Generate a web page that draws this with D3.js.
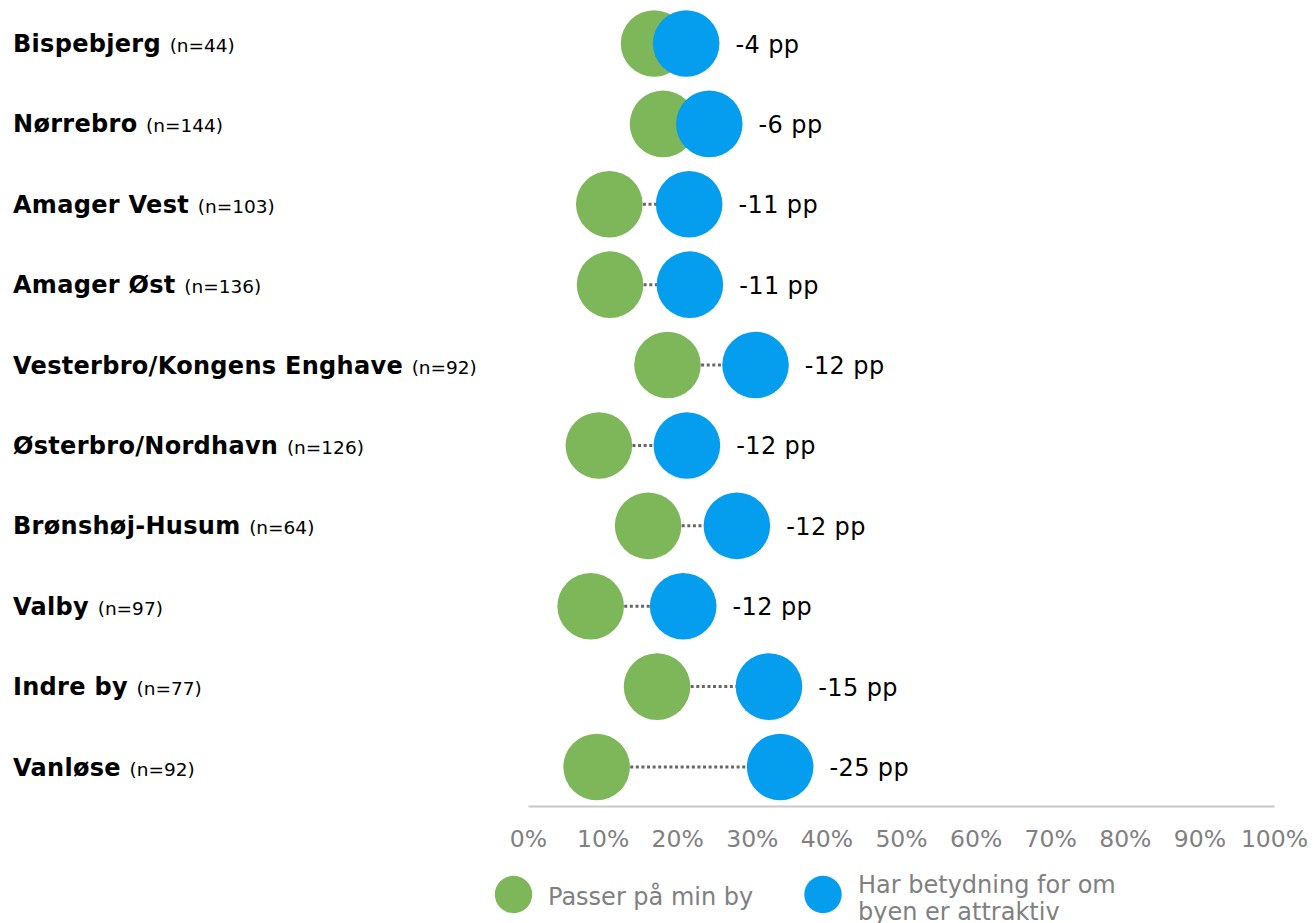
<!DOCTYPE html>
<html>
<head>
<meta charset="utf-8">
<script src="https://cdn.jsdelivr.net/npm/d3@7"></script>
<style>
  html, body { margin: 0; padding: 0; background: #fff; }
  svg { display: block; font-family: "DejaVu Sans", Verdana, sans-serif; }
</style>
</head>
<body>
<svg id="chart" width="1314" height="923"></svg>
<script>
const districts = ["Bispebjerg", "Nørrebro", "Amager Vest", "Amager Øst", "Vesterbro/Kongens Enghave", "Østerbro/Nordhavn", "Brønshøj-Husum", "Valby", "Indre by", "Vanløse"];
const counts = ["(n=44)", "(n=144)", "(n=103)", "(n=136)", "(n=92)", "(n=126)", "(n=64)", "(n=97)", "(n=77)", "(n=92)"];
const passer = [16.9, 18.1, 10.9, 11.0, 18.7, 9.5, 16.1, 8.4, 17.3, 9.2];
const betydning = [21.2, 24.3, 21.6, 21.7, 30.5, 21.3, 28.0, 20.8, 32.3, 33.8];
const diffLabels = ["-4 pp", "-6 pp", "-11 pp", "-11 pp", "-12 pp", "-12 pp", "-12 pp", "-12 pp", "-15 pp", "-25 pp"];
const tickValues = [0, 10, 20, 30, 40, 50, 60, 70, 80, 90, 100];
const seriesNames = ["Passer på min by", "Har betydning for om|byen er attraktiv"];
const colors = ["#7EB65A", "#059DED"];

const svg = d3.select("#chart");
const x = d3.scaleLinear().domain([0, 100]).range([528, 1274]);
const y = d3.scalePoint().domain(districts).range([43.5, 767]);
const r = 33.3;

// Row labels
const labels = svg.append("g").selectAll("text").data(districts).join("text")
  .attr("x", 13)
  .attr("y", d => y(d) + 8.5)
  .attr("font-size", 24)
  .attr("fill", "#000");
labels.append("tspan").attr("font-weight", "bold").attr("letter-spacing", 0.3).text(d => d + " ");
labels.append("tspan").attr("font-size", 18.5).text((d, i) => counts[i]);

// Connector lines
svg.append("g").selectAll("line").data(districts).join("line")
  .attr("x1", (d, i) => x(passer[i]))
  .attr("x2", (d, i) => x(betydning[i]))
  .attr("y1", d => y(d))
  .attr("y2", d => y(d))
  .attr("stroke", "#666")
  .attr("stroke-width", 3)
  .attr("stroke-dasharray", "3,2.6");

// Green circles
svg.append("g").selectAll("circle").data(districts).join("circle")
  .attr("cx", (d, i) => x(passer[i]))
  .attr("cy", d => y(d))
  .attr("r", r)
  .attr("fill", colors[0]);

// Blue circles
svg.append("g").selectAll("circle").data(districts).join("circle")
  .attr("cx", (d, i) => x(betydning[i]))
  .attr("cy", d => y(d))
  .attr("r", r)
  .attr("fill", colors[1]);

// Diff labels
svg.append("g").selectAll("text").data(districts).join("text")
  .attr("x", (d, i) => x(betydning[i]) + r + 16)
  .attr("y", d => y(d) + 9)
  .attr("font-size", 24)
  .attr("letter-spacing", 0.4)
  .attr("fill", "#000")
  .text((d, i) => diffLabels[i]);

// Axis
const axis = d3.axisBottom(x).tickValues(tickValues).tickSize(0).tickPadding(24).tickFormat(d => d + "%");
const ax = svg.append("g").attr("transform", "translate(0,806)").call(axis);
ax.select(".domain").attr("stroke", "#c8c8c8").attr("stroke-width", 2);
ax.selectAll("text").attr("font-size", 23.5).attr("fill", "#808080").attr("font-family", "DejaVu Sans, Verdana, sans-serif");

// Legend
const leg = svg.append("g");
leg.append("circle").attr("cx", 513.5).attr("cy", 894.5).attr("r", 18.7).attr("fill", colors[0]);
leg.append("text").attr("x", 548).attr("y", 905).attr("font-size", 24).attr("fill", "#808080").text(seriesNames[0]);
leg.append("circle").attr("cx", 823).attr("cy", 894.5).attr("r", 18.7).attr("fill", colors[1]);
const t2 = leg.append("text").attr("x", 858).attr("y", 893).attr("font-size", 24).attr("fill", "#808080");
seriesNames[1].split("|").forEach((s, i) => {
  t2.append("tspan").attr("x", 858).attr("dy", i === 0 ? 0 : 27).text(s);
});
</script>
</body>
</html>
